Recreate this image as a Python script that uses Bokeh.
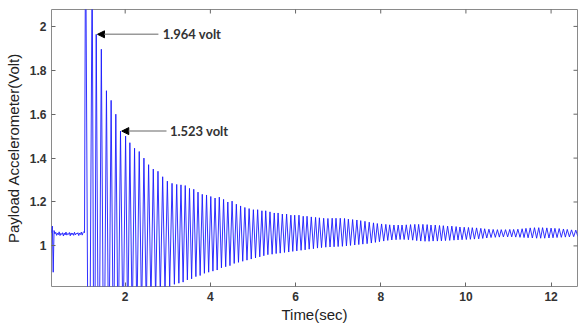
import numpy as np
from bokeh.plotting import figure
from bokeh.models import Range1d, FixedTicker, Arrow, NormalHead, Label
from bokeh.embed import file_html
from bokeh.resources import INLINE

# ---------------- data ----------------
x_start, x_end = 0.27, 12.62
y_start, y_end = 0.815, 2.077

# pre-impulse sensor noise
noise_t = [0.27, 0.29, 0.31, 0.33,
           0.35, 0.37, 0.39, 0.41, 0.43, 0.45, 0.47, 0.49, 0.51, 0.53,
           0.55, 0.57, 0.59, 0.61, 0.63, 0.65, 0.67, 0.69, 0.71, 0.73,
           0.75, 0.77, 0.79, 0.81, 0.83, 0.85, 0.87, 0.89, 0.91, 0.93,
           0.95, 0.97, 0.99, 1.01, 1.03, 1.045]
noise_v = [1.060, 1.090, 0.880, 1.070,
           1.055, 1.062, 1.048, 1.058, 1.051, 1.064, 1.047, 1.057, 1.052, 1.060,
           1.045, 1.058, 1.050, 1.063, 1.049, 1.056, 1.053, 1.061, 1.046, 1.059,
           1.051, 1.058, 1.048, 1.062, 1.050, 1.057, 1.054, 1.060, 1.047, 1.058,
           1.052, 1.063, 1.049, 1.060, 1.065, 1.060]

# time of each oscillation peak (sec)
peak_t = [1.07, 1.225, 1.32, 1.44, 1.56, 1.67, 1.78, 1.89, 2.01, 2.11,
          2.22, 2.33, 2.44, 2.55, 2.66, 2.77, 2.88, 2.99, 3.10, 3.21,
          3.31, 3.41, 3.51, 3.61, 3.71, 3.81, 3.91, 4.01, 4.11, 4.21,
          4.31, 4.41, 4.51, 4.61, 4.71, 4.81, 4.91, 5.01,
          5.11, 5.21, 5.30, 5.40, 5.50, 5.59, 5.69, 5.79, 5.89, 5.98,
          6.08, 6.18, 6.27, 6.37, 6.47, 6.56, 6.66, 6.76, 6.86, 6.95,
          7.05, 7.15, 7.24, 7.34, 7.44, 7.53, 7.63, 7.73, 7.83, 7.92,
          8.02, 8.12, 8.21, 8.31, 8.41, 8.50, 8.60, 8.70, 8.80, 8.89,
          8.99, 9.09, 9.18, 9.28, 9.38, 9.47, 9.57, 9.67, 9.77, 9.86,
          9.96, 10.06, 10.15, 10.25, 10.35, 10.44, 10.54, 10.64, 10.74, 10.83,
          10.93, 11.03, 11.12, 11.22, 11.32, 11.41, 11.51, 11.61, 11.71, 11.80,
          11.90, 12.00, 12.09, 12.19, 12.29, 12.38, 12.48, 12.58]

# peak voltage of each cycle (Volt)
peak_v = [2.50, 2.30, 1.964, 1.896, 1.707, 1.663, 1.600, 1.523, 1.500, 1.470,
          1.445, 1.430, 1.400, 1.370, 1.350, 1.340, 1.315, 1.295, 1.285, 1.280,
          1.278, 1.275, 1.262, 1.258, 1.245, 1.235, 1.232, 1.225, 1.218, 1.222,
          1.212, 1.200, 1.204, 1.190, 1.182, 1.175, 1.170, 1.165,
          1.165, 1.160, 1.160, 1.155, 1.150, 1.150, 1.145, 1.145, 1.140, 1.140,
          1.140, 1.135, 1.135, 1.132, 1.130, 1.128, 1.126, 1.125, 1.126, 1.126,
          1.126, 1.125, 1.122, 1.120, 1.118, 1.115, 1.112, 1.108, 1.105, 1.102,
          1.100, 1.098, 1.096, 1.095, 1.095, 1.095, 1.096, 1.097, 1.098, 1.098,
          1.098, 1.097, 1.095, 1.095, 1.093, 1.092, 1.090, 1.090, 1.088, 1.086,
          1.085, 1.084, 1.083, 1.082, 1.080, 1.078, 1.076, 1.075, 1.074, 1.074,
          1.074, 1.075, 1.075, 1.076, 1.078, 1.080, 1.082, 1.083, 1.083, 1.083,
          1.082, 1.081, 1.080, 1.079, 1.077, 1.075, 1.073, 1.072]

# trough voltage following each peak (Volt)
trough_v = [-0.30, -0.15, 0.146, 0.214, 0.403, 0.447, 0.510, 0.587, 0.610, 0.640,
            0.665, 0.680, 0.710, 0.740, 0.760, 0.770, 0.795, 0.815, 0.825, 0.830,
            0.835, 0.845, 0.850, 0.860, 0.865, 0.875, 0.880, 0.885, 0.890, 0.900,
            0.905, 0.910, 0.920, 0.925, 0.930, 0.935, 0.940, 0.945,
            0.950, 0.955, 0.960, 0.962, 0.965, 0.967, 0.970, 0.972, 0.975, 0.977,
            0.980, 0.982, 0.985, 0.987, 0.990, 0.992, 0.994, 0.995, 0.996, 0.997,
            0.998, 1.000, 1.002, 1.004, 1.006, 1.008, 1.010, 1.013, 1.016, 1.019,
            1.022, 1.025, 1.027, 1.028, 1.029, 1.029, 1.028, 1.026, 1.024, 1.022,
            1.021, 1.021, 1.022, 1.022, 1.023, 1.024, 1.025, 1.026, 1.027, 1.028,
            1.029, 1.030, 1.031, 1.032, 1.034, 1.036, 1.038, 1.039, 1.040, 1.041,
            1.041, 1.041, 1.040, 1.039, 1.038, 1.037, 1.036, 1.035, 1.035, 1.035,
            1.036, 1.037, 1.038, 1.039, 1.040, 1.041, 1.042, 1.043]

x_ticks = [2, 4, 6, 8, 10, 12]
y_ticks = [1, 1.2, 1.4, 1.6, 1.8, 2]
y_tick_labels = ["1", "1.2", "1.4", "1.6", "1.8", "2"]

ann_idx = [2, 7]           # annotated peaks
ann_text = ["1.964 volt", "1.523 volt"]

# ---------------- build the trace ----------------
xs = list(noise_t)
ys = list(noise_v)
n = len(peak_t)
for k in range(n):
    xs.append(peak_t[k]); ys.append(peak_v[k])
    t_next = peak_t[k + 1] if k + 1 < n else peak_t[k] + 0.097
    xs.append(0.5 * (peak_t[k] + t_next)); ys.append(trough_v[k])

p = figure(width=578, height=325, output_backend="svg", toolbar_location=None,
           x_range=Range1d(x_start, x_end), y_range=Range1d(y_start, y_end),
           min_border_left=51, min_border_right=1, min_border_top=9,
           min_border_bottom=36)
p.background_fill_color = "white"
p.border_fill_color = "white"
p.outline_line_color = "#8a8a8a"
p.outline_line_width = 1
p.xgrid.visible = False
p.ygrid.visible = False

p.line(xs, ys, line_color="#1a1aff", line_width=0.9)

font = "Liberation Sans"
for ax in (p.xaxis[0], p.yaxis[0]):
    ax.axis_line_color = None
    ax.major_tick_in = 4
    ax.major_tick_out = 0
    ax.major_tick_line_color = "#666666"
    ax.minor_tick_line_color = None
    ax.major_label_text_font = font
    ax.major_label_text_font_style = "bold"
    ax.major_label_text_font_size = "12px"
    ax.major_label_text_color = "#333333"
    ax.axis_label_text_font = font
    ax.axis_label_text_font_style = "normal"
    ax.axis_label_text_font_size = "15px"
    ax.axis_label_text_color = "#222222"

p.xaxis[0].ticker = FixedTicker(ticks=x_ticks)
p.yaxis[0].ticker = FixedTicker(ticks=y_ticks)
p.yaxis[0].major_label_overrides = {t: s for t, s in zip(y_ticks, y_tick_labels)}
p.xaxis[0].axis_label = "Time(sec)"
p.yaxis[0].axis_label = "Payload Accelerometer(Volt)"
p.xaxis[0].major_label_standoff = 5
p.yaxis[0].major_label_standoff = 5
p.xaxis[0].axis_label_standoff = 2
p.yaxis[0].axis_label_standoff = 5

# mirrored inward ticks on top and right (half of each dash is clipped by the frame)
p.scatter(x_ticks, [y_end] * len(x_ticks), marker="dash", size=8, angle=np.pi / 2,
          line_color="#666666", line_width=1)
p.scatter([x_end] * len(y_ticks), y_ticks, marker="dash", size=8, angle=0,
          line_color="#666666", line_width=1)

# annotations
tail_x = [2.78, 2.97]
text_x = [2.88, 3.05]
for i, k in enumerate(ann_idx):
    p.add_layout(Arrow(end=NormalHead(size=7, fill_color="black", line_color="black"),
                       x_start=tail_x[i], y_start=peak_v[k],
                       x_end=peak_t[k] + 0.03, y_end=peak_v[k],
                       line_color="#999999", line_width=1.5))
    p.add_layout(Label(x=text_x[i], y=peak_v[k], text=ann_text[i],
                       text_baseline="middle", text_align="left",
                       text_font="Lato", text_font_style="bold",
                       text_font_size="13px", text_color="#333333"))

open("out.html", "w").write(file_html(p, INLINE))
